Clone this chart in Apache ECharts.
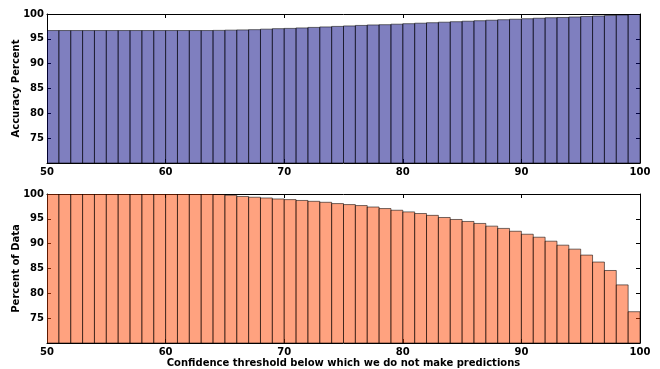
<!DOCTYPE html>
<html>
<head>
<meta charset="utf-8">
<script src="https://cdn.jsdelivr.net/npm/echarts@6/dist/echarts.min.js"></script>
<style>
  html, body { margin: 0; padding: 0; background: #fff; }
  #main { width: 660px; height: 369px; }
</style>
</head>
<body>
<div id="main"></div>
<script>
var thresholds = [50, 51, 52, 53, 54, 55, 56, 57, 58, 59,
                  60, 61, 62, 63, 64, 65, 66, 67, 68, 69,
                  70, 71, 72, 73, 74, 75, 76, 77, 78, 79,
                  80, 81, 82, 83, 84, 85, 86, 87, 88, 89,
                  90, 91, 92, 93, 94, 95, 96, 97, 98, 99];

var accuracy = [96.67, 96.67, 96.67, 96.67, 96.67, 96.67, 96.67, 96.67, 96.67, 96.67,
                96.67, 96.67, 96.67, 96.67, 96.7, 96.75, 96.8, 96.85, 96.95, 97.05,
                97.1, 97.2, 97.3, 97.4, 97.5, 97.6, 97.7, 97.8, 97.85, 97.95,
                98.05, 98.15, 98.25, 98.35, 98.45, 98.55, 98.65, 98.75, 98.85, 98.95,
                99.05, 99.15, 99.25, 99.3, 99.4, 99.5, 99.6, 99.7, 99.8, 99.9];

var coverage = [100, 100, 100, 100, 100, 100, 100, 100, 100, 100,
                100, 100, 100, 100, 99.9, 99.75, 99.5, 99.35, 99.2, 99.0,
                98.87, 98.7, 98.53, 98.33, 98.07, 97.87, 97.67, 97.38, 97.07, 96.73,
                96.4, 96.07, 95.7, 95.27, 94.87, 94.47, 94.07, 93.53, 93.07, 92.5,
                91.9, 91.3, 90.5, 89.7, 88.9, 87.7, 86.3, 84.6, 81.7, 76.3];

var yMin = 70, yMax = 100;

var myChart = echarts.init(document.getElementById('main'));

var font = 'DejaVu Sans';
var lineStyle = { color: '#000', width: 1 };

function pairs(vals) {
  return thresholds.map(function (t, i) { return [t, vals[i]]; });
}

function barRender(fill) {
  return function (params, api) {
    var x = api.value(0);
    var y = api.value(1);
    var p0 = api.coord([x, y]);
    var p1 = api.coord([x + 1, yMin]);
    return {
      type: 'rect',
      shape: { x: p0[0], y: p0[1], width: p1[0] - p0[0], height: p1[1] - p0[1] },
      style: { fill: fill, stroke: 'rgba(0,0,0,0.55)', lineWidth: 1 }
    };
  };
}

function xAx(idx, showLabel, name) {
  return [{
    type: 'value', gridIndex: idx, min: 50, max: 100, interval: 10,
    axisLine: { lineStyle: lineStyle },
    axisTick: { inside: true, length: 4, lineStyle: lineStyle },
    axisLabel: { show: showLabel, color: '#000', fontFamily: font, fontWeight: 'bold', fontSize: 10, margin: 4 },
    splitLine: { show: false },
    name: name || '', nameLocation: 'middle', nameGap: 15,
    nameTextStyle: { color: '#000', fontFamily: font, fontWeight: 'bold', fontSize: 10 }
  }, {
    type: 'value', gridIndex: idx, position: 'top', min: 50, max: 100, interval: 10,
    axisLine: { lineStyle: lineStyle },
    axisTick: { inside: true, length: 4, lineStyle: lineStyle },
    axisLabel: { show: false },
    splitLine: { show: false }
  }];
}

function yAx(idx, name) {
  return [{
    type: 'value', gridIndex: idx, min: yMin, max: yMax, interval: 5,
    axisLine: { show: true, lineStyle: lineStyle },
    axisTick: { show: true, inside: true, length: 4, lineStyle: lineStyle },
    axisLabel: { showMinLabel: false, color: '#000', fontFamily: font, fontWeight: 'bold', fontSize: 10, margin: 3 },
    splitLine: { show: false },
    name: name, nameLocation: 'middle', nameGap: 26, nameMoveOverlap: false,
    nameTextStyle: { color: '#000', fontFamily: font, fontWeight: 'bold', fontSize: 10 }
  }, {
    type: 'value', gridIndex: idx, position: 'right', min: yMin, max: yMax, interval: 5,
    axisLine: { show: true, lineStyle: lineStyle },
    axisTick: { show: true, inside: true, length: 4, lineStyle: lineStyle },
    axisLabel: { show: false },
    splitLine: { show: false }
  }];
}

var option = {
  animation: false,
  backgroundColor: '#fff',
  grid: [
    { left: 47, right: 20, top: 14, height: 149, containLabel: false, outerBoundsMode: 'none' },
    { left: 47, right: 20, top: 194, height: 149, containLabel: false, outerBoundsMode: 'none' }
  ],
  xAxis: xAx(0, true).concat(xAx(1, true, 'Confidence threshold below which we do not make predictions')),
  yAxis: yAx(0, 'Accuracy Percent').concat(yAx(1, 'Percent of Data')),
  series: [
    {
      type: 'custom', xAxisIndex: 0, yAxisIndex: 0, clip: true,
      renderItem: barRender('rgba(0,0,128,0.5)'),
      encode: { x: 0, y: 1 },
      data: pairs(accuracy), z: 1
    },
    {
      type: 'custom', xAxisIndex: 2, yAxisIndex: 2, clip: true,
      renderItem: barRender('rgba(255,69,0,0.5)'),
      encode: { x: 0, y: 1 },
      data: pairs(coverage), z: 1
    }
  ]
};

myChart.setOption(option);
</script>
</body>
</html>
